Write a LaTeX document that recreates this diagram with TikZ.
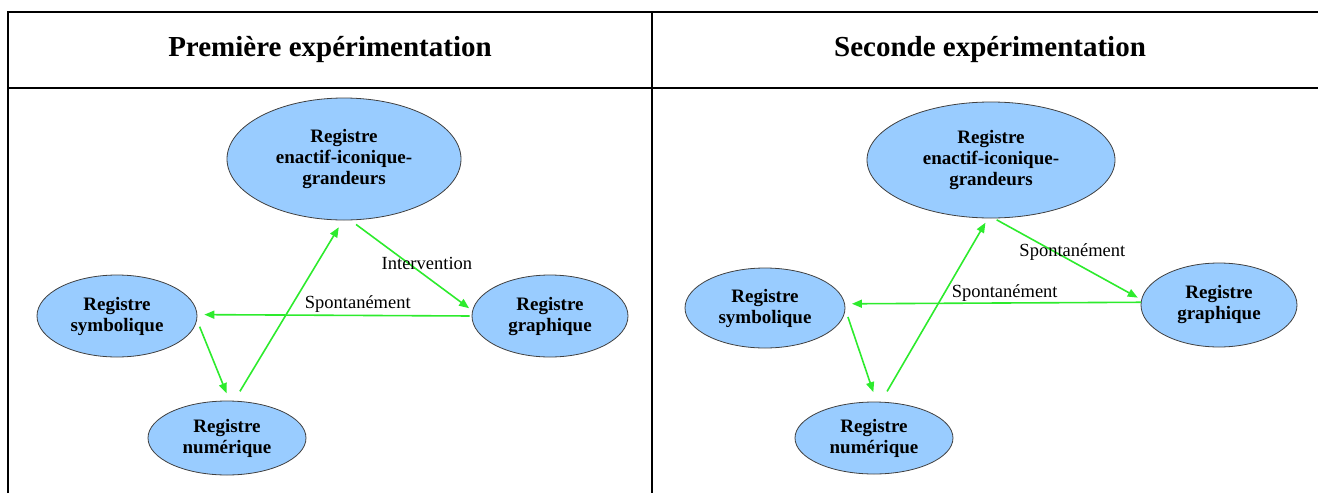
\documentclass[tikz,border=0pt]{standalone}
\usepackage{fontspec}
\setmainfont{Liberation Serif}
\usetikzlibrary{shapes.geometric, arrows.meta, positioning}
\definecolor{regblue}{RGB}{153,204,255}
\definecolor{flowgreen}{RGB}{45,235,45}

\begin{document}
\begin{tikzpicture}[x=1pt, y=-1pt,
    register/.style={ellipse, draw=black!75, line width=0.8pt, fill=regblue, inner sep=0pt, align=center, font=\fontsize{19}{21}\selectfont\bfseries},
    head/.style={font=\fontsize{29}{34}\selectfont\bfseries},
    arrow/.style={-{Triangle[length=10pt, width=8pt]}, flowgreen, line width=1.6pt},
    lbl/.style={font=\fontsize{18.5}{22}\selectfont, text=black, inner sep=0pt}]

    \useasboundingbox (0,0) rectangle (1318,493);

    % table frame
    \draw [line width=2.6pt] (8,493) -- (8,12) -- (1318,12);
    \draw [line width=2.6pt] (8,88) -- (1318,88);
    \draw [line width=2.6pt] (652,12) -- (652,493);

    \node (head1) [head] at (330,50) {Première expérimentation};
    \node (head2) [head] at (990,50) {Seconde expérimentation};

    % first experiment
    \node (enactA) [register, minimum width=234pt, minimum height=122pt] at (344,159) {Registre\\enactif-iconique-\\grandeurs};
    \node (symbA) [register, minimum width=160pt, minimum height=82pt] at (117,316) {Registre\\symbolique};
    \node (graphA) [register, minimum width=156pt, minimum height=82pt] at (550,316) {Registre\\graphique};
    \node (numA) [register, minimum width=158pt, minimum height=74pt] at (227,438) {Registre\\numérique};

    \draw [arrow, shorten <=11pt, shorten >=8pt] (numA.79) -- (enactA.269);
    \draw [arrow, shorten <=7pt, shorten >=4pt] (enactA.276) -- node[lbl, pos=0.48, xshift=18pt] {Intervention} (graphA.176);
    \draw [arrow, shorten <=2pt, shorten >=7pt] (graphA.180) -- node[lbl, pos=0.415, yshift=11pt] {Spontanément} (symbA.1);
    \draw [arrow, shorten <=7pt, shorten >=8pt] (symbA.357) -- (numA.86);

    % second experiment
    \node (enactB) [register, minimum width=248pt, minimum height=116pt] at (991,160) {Registre\\enactif-iconique-\\grandeurs};
    \node (symbB) [register, minimum width=160pt, minimum height=80pt] at (765,308) {Registre\\symbolique};
    \node (graphB) [register, minimum width=156pt, minimum height=84pt] at (1219,305) {Registre\\graphique};
    \node (numB) [register, minimum width=158pt, minimum height=72pt] at (874,438) {Registre\\numérique};

    \draw [arrow, shorten <=12pt, shorten >=5pt] (numB.79) -- (enactB.267);
    \draw [arrow, shorten <=3pt, shorten >=4pt] (enactB.273) -- node[lbl, pos=0.41, xshift=18pt] {Spontanément} (graphB.176);
    \draw [arrow, shorten <=0pt, shorten >=7pt] (graphB.178) -- node[lbl, pos=0.46, yshift=10pt] {Spontanément} (symbB.3);
    \draw [arrow, shorten <=8pt, shorten >=10pt] (symbB.359) -- (numB.86);

\end{tikzpicture}
\end{document}
